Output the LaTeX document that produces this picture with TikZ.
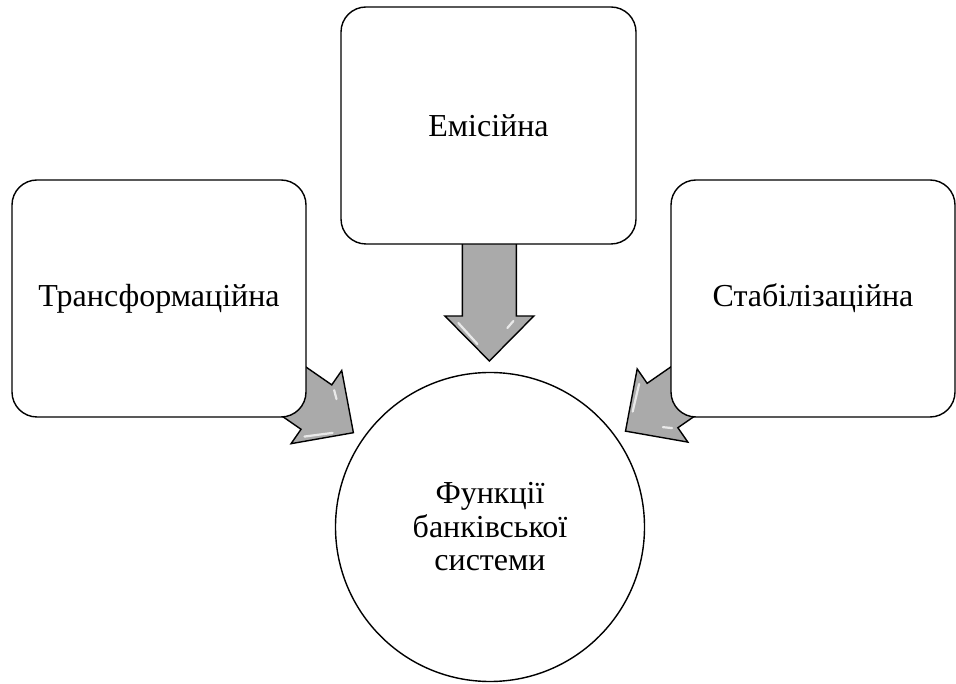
\documentclass[tikz,border=0pt]{standalone}
\usepackage{fontspec}
\setmainfont{Liberation Serif}
\usetikzlibrary{calc}
\definecolor{arrowgray}{RGB}{170,170,170}
\begin{document}
\begin{tikzpicture}[x=1pt,y=1pt,
  boxnode/.style={draw=black,line width=1.4pt,fill=white,rounded corners=25pt,
    inner sep=0pt,align=center,font=\fontsize{32}{34}\selectfont},
  circnode/.style={draw=black,line width=1.4pt,fill=white,circle,inner sep=0pt,
    minimum size=309pt,align=center,font=\fontsize{32}{33.5}\selectfont},
  fatarrow/.style={draw=black,line width=1.4pt,fill=arrowgray,line join=miter},
  shine/.style={draw=white,line width=2.2pt,line cap=round,opacity=0.75}]
\useasboundingbox (0,0) rectangle (956,683);
% coordinates for node centres
\coordinate (cc) at (490,156);
\coordinate (lc) at (159,384.5);
\coordinate (tc) at (488.5,557.5);
\coordinate (rc) at (813,384.5);
% arrows (drawn first, boxes cover their tails)
\foreach \src/\ang in {lc/-34.7, tc/-90, rc/-145.3}{
  \begin{scope}[shift={($(cc)!166pt!(\src)$)},rotate=\ang]
    \draw[fatarrow] (0,0) -- (-45,44.5) -- (-45,27) -- (-150,27) -- (-150,-27)
      -- (-45,-27) -- (-45,-44.5) -- cycle;
    \draw[shine] (-38,-31) -- (-17,-12);
    \draw[shine] (-40,24) -- (-33,18);
  \end{scope}
}
% boxes
\node[boxnode,minimum width=294pt,minimum height=237pt] (lbox) at (lc) {Трансформаційна};
\node[boxnode,minimum width=295pt,minimum height=237pt] (tbox) at (tc) {Емісійна};
\node[boxnode,minimum width=284pt,minimum height=237pt] (rbox) at (rc) {Стабілізаційна};
\node[circnode] (circ) at (cc) {Функції\\банківської\\системи};
\end{tikzpicture}
\end{document}
